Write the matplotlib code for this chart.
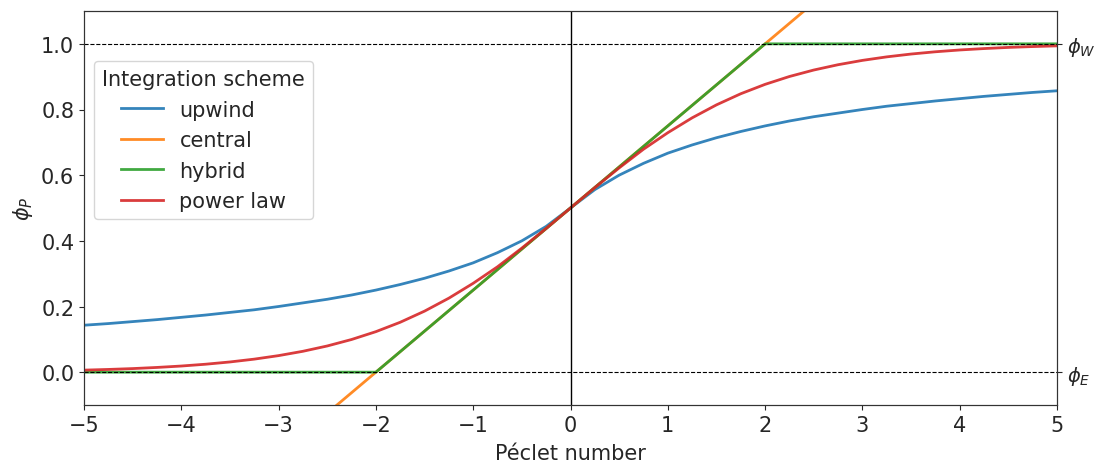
import matplotlib
matplotlib.use("Agg")
import matplotlib.pyplot as plt

# Péclet number sample points and read values
pe = [-5, -4.75, -4.5, -4.25, -4, -3.75, -3.5, -3.25, -3, -2.75, -2.5, -2.25, -2, -1.75, -1.5, -1.25,
      -1, -0.75, -0.5, -0.25, 0,
      0.25, 0.5, 0.75, 1, 1.25, 1.5, 1.75, 2, 2.25, 2.5, 2.75, 3, 3.25, 3.5, 3.75, 4, 4.25, 4.5, 4.75, 5]
upwind = [0.143, 0.148, 0.154, 0.160, 0.167, 0.174, 0.182, 0.190, 0.200, 0.211, 0.222, 0.235, 0.250,
          0.267, 0.286, 0.308, 0.333, 0.364, 0.400, 0.444, 0.500,
          0.556, 0.600, 0.636, 0.667, 0.692, 0.714, 0.733, 0.750, 0.765, 0.778, 0.789, 0.800,
          0.810, 0.818, 0.826, 0.833, 0.840, 0.846, 0.852, 0.857]
power_law = [0.0062, 0.0083, 0.0109, 0.0144, 0.0187, 0.0242, 0.0311, 0.0397, 0.0504, 0.0636, 0.0798,
             0.0995, 0.1234, 0.1520, 0.1859, 0.2254, 0.2707, 0.3210, 0.3779, 0.4379, 0.5000,
             0.5621, 0.6221, 0.6790, 0.7293, 0.7746, 0.8141, 0.8480, 0.8766, 0.9005, 0.9202,
             0.9364, 0.9496, 0.9603, 0.9689, 0.9758, 0.9813, 0.9856, 0.9891, 0.9917, 0.9938]
central_pe = [-5, 5]
central = [-0.75, 1.75]
hybrid_pe = [-5, -2, 2, 5]
hybrid = [0.0, 0.0, 1.0, 1.0]

labels = ["upwind", "central", "hybrid", "power law"]
colors = ["#1f77b4", "#ff7f0e", "#2ca02c", "#d62728"]

txt = "#262626"
plt.rcParams.update({"text.color": txt, "axes.labelcolor": txt,
                     "xtick.color": txt, "ytick.color": txt,
                     "axes.edgecolor": "#333333"})

fig = plt.figure(figsize=(10.97, 4.64), dpi=100)
ax = fig.add_axes([84/1097, 1-406/464, 973/1097, 394/464])
fs = 15

ax.plot(pe, upwind, color=colors[0], lw=2, alpha=0.9, label=labels[0])
ax.plot(central_pe, central, color=colors[1], lw=2, alpha=0.9, label=labels[1])
ax.plot(hybrid_pe, hybrid, color=colors[2], lw=2, alpha=0.9, label=labels[2])
ax.plot(pe, power_law, color=colors[3], lw=2, alpha=0.9, label=labels[3])

ax.axhline(0, color="black", ls="--", lw=0.8)
ax.axhline(1, color="black", ls="--", lw=0.8)
ax.axvline(0, color="black", lw=1)

ax.set_xlim(-5, 5)
ax.set_ylim(-0.1, 1.1)
ax.set_xticks(range(-5, 6))
ax.set_yticks([0.0, 0.2, 0.4, 0.6, 0.8, 1.0])
ax.tick_params(labelsize=fs)
ax.set_xlabel("Péclet number", fontsize=fs, labelpad=6)
ax.set_ylabel(r"$\phi_P$", fontsize=fs)

ax2 = ax.twinx()
ax2.set_ylim(-0.1, 1.1)
ax2.set_yticks([0, 1])
ax2.set_yticklabels([r"$\phi_E$", r"$\phi_W$"], fontsize=14)

leg = ax.legend(title="Integration scheme", fontsize=fs, title_fontsize=fs,
                loc="upper left", bbox_to_anchor=(0.0103, 0.873), borderaxespad=0)

fig.savefig("out.png", dpi=100)
